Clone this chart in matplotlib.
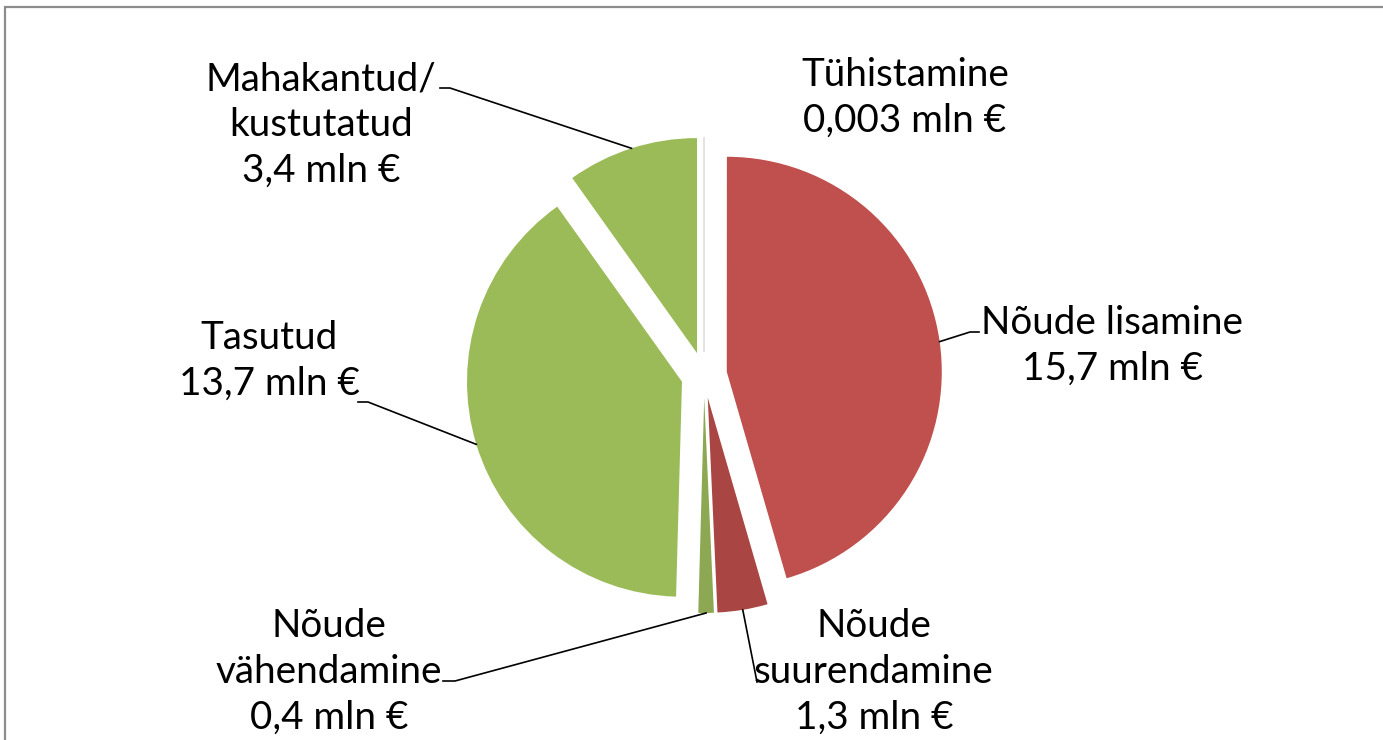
import matplotlib
matplotlib.use('Agg')
import matplotlib.pyplot as plt
import numpy as np
from matplotlib.patches import Rectangle

plt.rcParams['font.family'] = ['Lato', 'DejaVu Sans']

# andmed
labels = ['Tühistamine\n0,003 mln €', 'Nõude lisamine\n15,7 mln €',
          'Nõude\nsuurendamine\n1,3 mln €', 'Nõude\nvähendamine\n0,4 mln €',
          'Tasutud\n13,7 mln €', 'Mahakantud/\nkustutatud\n3,4 mln €']
values = [0.003, 15.7, 1.3, 0.4, 13.7, 3.4]
colors = ['#FFFFFF', '#C0504D', '#A94643', '#8CA852', '#9BBB59', '#9BBB59']

W, H = 1383, 740
fig = plt.figure(figsize=(W / 100, H / 100), dpi=100)
ax = fig.add_axes([0, 0, 1, 1])

cx, cy, r = 704, H - 375, 215
expl = 23  # pie explode on andmeühikutes (px)
wedges, _ = ax.pie(values, colors=colors, startangle=90, counterclock=False,
                   explode=[expl] * len(values), radius=r, center=(cx, cy),
                   wedgeprops=dict(linewidth=0))
# Tühistamine on peaaegu null, näha ainult õhuke joon
wedges[0].set_edgecolor('#E4E4E4')
wedges[0].set_linewidth(0.8)
ax.set_xlim(0, W)
ax.set_ylim(0, H)
ax.set_aspect('equal')
ax.axis('off')

# sildid: (keskpunkt x, keskpunkt y pikslites ülalt), juhtjoone otspunktid
label_pos = [(905, 98), (1112, 346), (874, 672), (329, 672), (269, 361), (321, 125)]
leader_pts = [None,
              [(970, 332), (979, 332)],
              [(757, 682)],
              [(455, 681), (443, 681)],
              [(368, 402), (358, 402)],
              [(450, 88), (440, 88)]]

total = sum(values)
ang = 90.0
for lab, v, (lx, ly), pts in zip(labels, values, label_pos, leader_pts):
    span = v / total * 360
    mid = np.deg2rad(ang - span / 2)
    ang -= span
    ax.text(lx, H - ly, lab, ha='center', va='center', fontsize=27.8,
            linespacing=1.33, color='black')
    if pts is None:
        continue
    ex = cx + (r + expl) * np.cos(mid)
    ey = cy + (r + expl) * np.sin(mid)
    xs = [ex] + [p[0] for p in pts]
    ys = [ey] + [H - p[1] for p in pts]
    ax.plot(xs, ys, color='black', lw=1.2)

# raam
fig.patches.append(Rectangle((5 / W, -0.1), 1.2, 1.1 - 7 / H,
                             transform=fig.transFigure, fill=False,
                             edgecolor='#8C8C8C', lw=1.6))

fig.savefig('out.png', dpi=100)
